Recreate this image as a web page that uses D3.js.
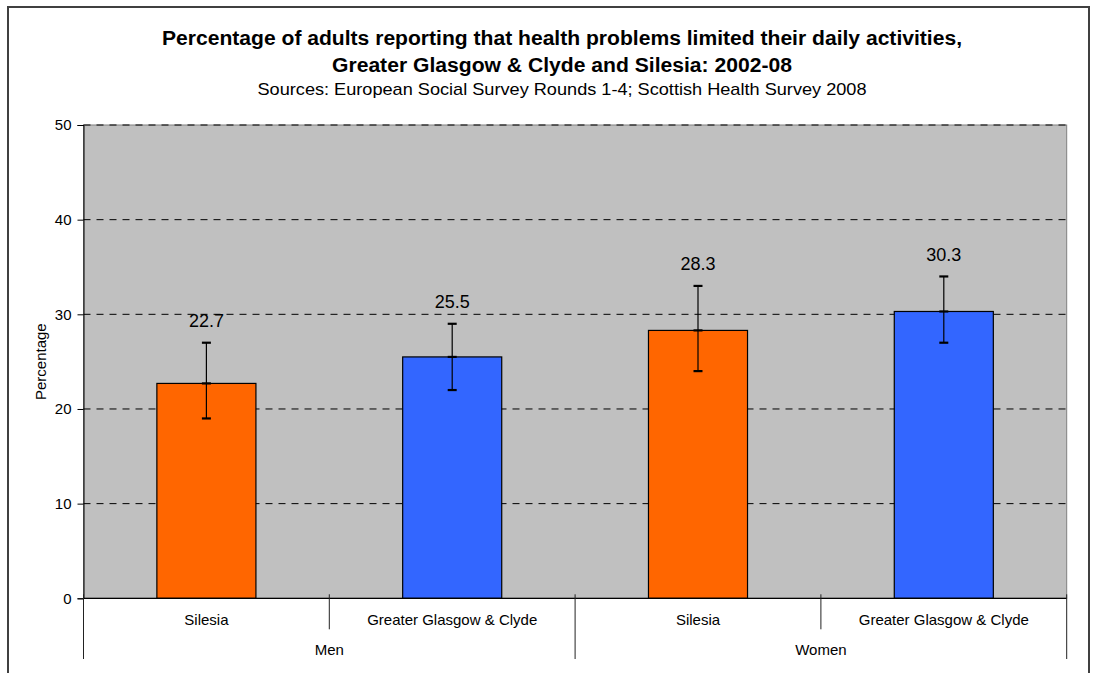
<!DOCTYPE html>
<html>
<head>
<meta charset="utf-8">
<script src="https://cdn.jsdelivr.net/npm/d3@7"></script>
<style>
  html, body { margin: 0; padding: 0; background: #fff; overflow: hidden; }
  svg { display: block; }
  text { font-family: Arial, "Liberation Sans", sans-serif; fill: #000; }
</style>
</head>
<body>
<svg id="chart" width="1096" height="673"></svg>
<script>
// ---- data ----
const categories = ["Silesia", "Greater Glasgow & Clyde", "Silesia", "Greater Glasgow & Clyde"];
const groups = ["Men", "Men", "Women", "Women"];
const groupLabels = ["Men", "Women"];
const values = [22.7, 25.5, 28.3, 30.3];
const lower = [19, 22, 24, 27];
const upper = [27, 29, 33, 34];
const barColors = ["#FF6600", "#3366FF", "#FF6600", "#3366FF"];
const yTicks = [0, 10, 20, 30, 40, 50];
const titleLines = [
  "Percentage of adults reporting that health problems limited their daily activities,",
  "Greater Glasgow & Clyde and Silesia: 2002-08"
];
const subtitle = "Sources: European Social Survey Rounds 1-4; Scottish Health Survey 2008";
const yTitle = "Percentage";

// ---- layout ----
const svg = d3.select("#chart");
const plot = { left: 83.5, right: 1066.7, top: 125, bottom: 598.3 };
const idx = categories.map((d, i) => i);

const x = d3.scaleBand().domain(idx).range([plot.left, plot.right])
  .paddingInner(0.597).paddingOuter(0.2985);
const step = x.step();
const y = d3.scaleLinear().domain([0, 50]).range([plot.bottom, plot.top]);

// outer border (bottom runs off the page)
svg.append("rect").attr("x", 8).attr("y", 7).attr("width", 1081).attr("height", 800)
  .attr("fill", "none").attr("stroke", "#404040").attr("stroke-width", 2);

// titles (slightly stretched horizontally as in the original)
const cx = 562;
svg.append("text").attr("x", cx).attr("y", 44.5).attr("text-anchor", "middle")
  .attr("textLength", 800).attr("lengthAdjust", "spacingAndGlyphs")
  .style("font-size", "19.5px").style("font-weight", "bold").text(titleLines[0]);
svg.append("text").attr("x", cx).attr("y", 71.7).attr("text-anchor", "middle")
  .attr("textLength", 460).attr("lengthAdjust", "spacingAndGlyphs")
  .style("font-size", "19.5px").style("font-weight", "bold").text(titleLines[1]);
svg.append("text").attr("x", cx).attr("y", 95.3).attr("text-anchor", "middle")
  .attr("textLength", 609).attr("lengthAdjust", "spacingAndGlyphs")
  .style("font-size", "17px").text(subtitle);

// plot background
svg.append("rect").attr("x", plot.left).attr("y", plot.top)
  .attr("width", plot.right - plot.left).attr("height", plot.bottom - plot.top)
  .attr("fill", "#C0C0C0").attr("stroke", "#808080").attr("stroke-width", 1);

// gridlines
svg.append("g").selectAll("line").data(yTicks.filter(t => t > 0)).join("line")
  .attr("x1", plot.left).attr("x2", plot.right)
  .attr("y1", d => y(d)).attr("y2", d => y(d))
  .attr("stroke", "#000").attr("stroke-width", 1).attr("stroke-dasharray", "7,6");

// y axis
const yAxis = svg.append("g").attr("transform", `translate(${plot.left},0)`)
  .call(d3.axisLeft(y).tickValues(yTicks).tickSize(6).tickPadding(6).tickFormat(d3.format("d")));
yAxis.select(".domain").attr("stroke", "#000");
yAxis.selectAll(".tick line").attr("stroke", "#000");
yAxis.selectAll("text").style("font-size", "15px").style("font-family", "Arial, 'Liberation Sans', sans-serif").attr("fill", "#000");

svg.append("text").attr("transform", `translate(46,361.7) rotate(-90)`)
  .attr("text-anchor", "middle").style("font-size", "15px").text(yTitle);

// bars
svg.append("g").selectAll("rect").data(idx).join("rect")
  .attr("x", i => x(i)).attr("width", x.bandwidth())
  .attr("y", i => y(values[i])).attr("height", i => y(0) - y(values[i]))
  .attr("fill", i => barColors[i]).attr("stroke", "#000").attr("stroke-width", 1.2);

// error bars
const eb = svg.append("g");
idx.forEach(i => {
  const mx = x(i) + x.bandwidth() / 2;
  eb.append("line").attr("x1", mx).attr("x2", mx)
    .attr("y1", y(lower[i])).attr("y2", y(upper[i]))
    .attr("stroke", "#000").attr("stroke-width", 1.2);
  [lower[i], values[i], upper[i]].forEach(v => {
    eb.append("line").attr("x1", mx - 4.5).attr("x2", mx + 4.5)
      .attr("y1", y(v)).attr("y2", y(v))
      .attr("stroke", "#000").attr("stroke-width", 2.2);
  });
});

// value labels
svg.append("g").selectAll("text").data(idx).join("text")
  .attr("x", i => x(i) + x.bandwidth() / 2).attr("y", i => y(upper[i]) - 15.5)
  .attr("text-anchor", "middle").style("font-size", "18px")
  .text(i => values[i].toFixed(1));

// x axis line
svg.append("line").attr("x1", plot.left).attr("x2", plot.right)
  .attr("y1", y(0)).attr("y2", y(0)).attr("stroke", "#000").attr("stroke-width", 1.3);

// category separators
const sep = svg.append("g");
for (let k = 0; k <= categories.length; k++) {
  const xx = plot.left + k * step;
  const isGroupEdge = (k === 0 || k === categories.length || groups[k] !== groups[k - 1]);
  sep.append("line").attr("x1", xx).attr("x2", xx)
    .attr("y1", y(0) - 4).attr("y2", isGroupEdge ? 659 : 629.3)
    .attr("stroke", "#222").attr("stroke-width", 1);
}

// category labels
svg.append("g").selectAll("text").data(idx).join("text")
  .attr("x", i => x(i) + x.bandwidth() / 2).attr("y", 625.3)
  .attr("text-anchor", "middle").style("font-size", "15px")
  .text(i => categories[i]);

// group labels
svg.append("g").selectAll("text").data(groupLabels).join("text")
  .attr("x", g => {
    const ids = idx.filter(i => groups[i] === g);
    return (x(ids[0]) + x(ids[ids.length - 1]) + x.bandwidth()) / 2;
  })
  .attr("y", 655).attr("text-anchor", "middle").style("font-size", "15px")
  .text(g => g);
</script>
</body>
</html>
